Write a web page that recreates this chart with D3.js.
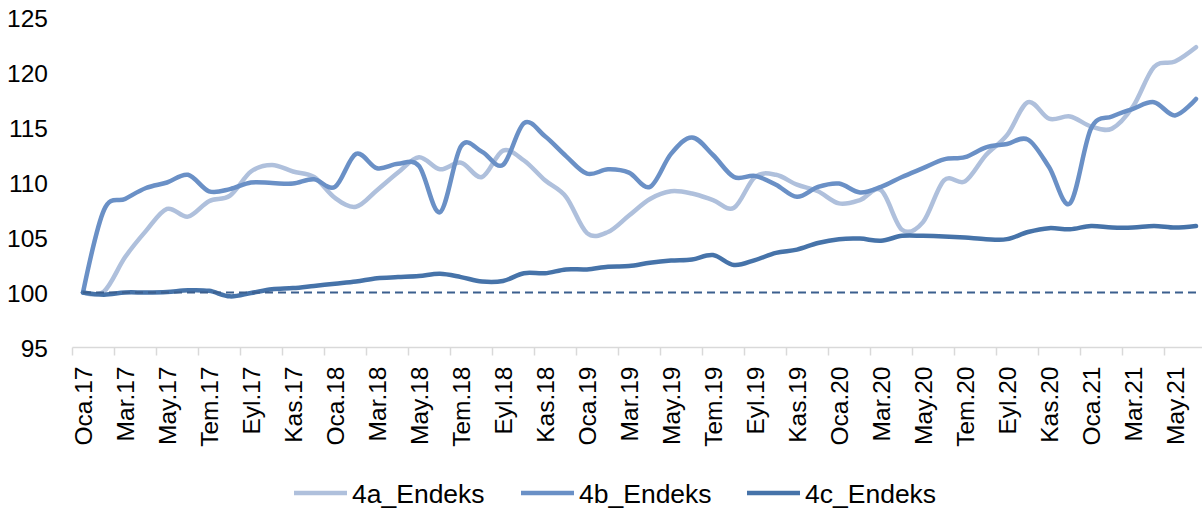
<!DOCTYPE html>
<html>
<head>
<meta charset="utf-8">
<script src="https://cdn.jsdelivr.net/npm/d3@7"></script>
<style>
  html, body { margin: 0; padding: 0; background: #fff; }
  svg { display: block; font-family: "Liberation Sans", Arial, sans-serif; }
</style>
</head>
<body>
<div id="chart"></div>
<script>
// Months Jan 2017 - Jun 2021 (Turkish abbreviations)
const categories = [
  "Oca.17","Şub.17","Mar.17","Nis.17","May.17","Haz.17","Tem.17","Ağu.17","Eyl.17","Eki.17","Kas.17","Ara.17",
  "Oca.18","Şub.18","Mar.18","Nis.18","May.18","Haz.18","Tem.18","Ağu.18","Eyl.18","Eki.18","Kas.18","Ara.18",
  "Oca.19","Şub.19","Mar.19","Nis.19","May.19","Haz.19","Tem.19","Ağu.19","Eyl.19","Eki.19","Kas.19","Ara.19",
  "Oca.20","Şub.20","Mar.20","Nis.20","May.20","Haz.20","Tem.20","Ağu.20","Eyl.20","Eki.20","Kas.20","Ara.20",
  "Oca.21","Şub.21","Mar.21","Nis.21","May.21","Haz.21"
];

const endeks4a = [
  100, 100.1, 103.2, 105.6, 107.6, 106.9, 108.3, 108.8, 111.0, 111.6, 111.0, 110.5,
  108.6, 107.8, 109.3, 110.9, 112.3, 111.2, 111.8, 110.5, 112.9, 112.0, 110.2, 108.7,
  105.4, 105.5, 107.0, 108.5, 109.2, 109.0, 108.4, 107.7, 110.5, 110.7, 109.8, 109.2,
  108.1, 108.4, 109.3, 105.7, 106.4, 110.2, 110.1, 112.5, 114.3, 117.3, 115.8, 116.0,
  115.1, 114.9, 116.9, 120.5, 121.0, 122.3
];

const endeks4b = [
  100, 107.5, 108.5, 109.5, 110.0, 110.7, 109.2, 109.4, 110.0, 109.95, 109.9, 110.3,
  109.6, 112.6, 111.3, 111.7, 111.5, 107.3, 113.3, 112.8, 111.6, 115.4, 114.2, 112.4,
  110.8, 111.2, 110.9, 109.6, 112.6, 114.1, 112.5, 110.5, 110.6, 109.8, 108.7, 109.6,
  109.9, 109.1, 109.6, 110.5, 111.3, 112.1, 112.3, 113.2, 113.5, 113.9, 111.4, 108.1,
  114.9, 116.0, 116.7, 117.3, 116.1, 117.6
];

const endeks4c = [
  100, 99.8, 100.0, 100.0, 100.05, 100.2, 100.15, 99.65, 99.95, 100.3, 100.4, 100.6,
  100.8, 101.0, 101.3, 101.4, 101.5, 101.7, 101.4, 101.0, 101.05, 101.75, 101.75, 102.1,
  102.1, 102.35, 102.4, 102.7, 102.9, 103.0, 103.4, 102.5, 102.95, 103.6, 103.9, 104.5,
  104.85, 104.9, 104.7, 105.15, 105.15, 105.1, 105.0, 104.85, 104.85, 105.5, 105.85, 105.75,
  106.05, 105.9, 105.9, 106.05, 105.9, 106.05
];

const baseLevel = 100;
const yTicks = [95, 100, 105, 110, 115, 120, 125];
const seriesNames = ["4a_Endeks", "4b_Endeks", "4c_Endeks"];
const seriesColors = ["#afc0dc", "#6a90c6", "#4673a9"];

const width = 1202, height = 510;

const svg = d3.select("#chart").append("svg")
  .attr("width", width)
  .attr("height", height);

// category scale: one band per month, points at band centres
const x = d3.scaleBand()
  .domain(categories)
  .range([72.5, 1206.5])
  .paddingInner(0)
  .paddingOuter(0);
const cx = d => x(d) + x.bandwidth() / 2;

const y = d3.scaleLinear()
  .domain([95, 125])
  .range([347.5, 17.5]);

// y labels (no axis line)
const yAxis = d3.axisLeft(y).tickValues(yTicks).tickSize(0).tickPadding(0);
svg.append("g")
  .attr("transform", "translate(48,0)")
  .call(yAxis)
  .call(g => g.select(".domain").remove())
  .call(g => g.selectAll("text")
    .attr("font-family", "Liberation Sans, Arial, sans-serif")
    .attr("font-size", 24.5)
    .attr("fill", "#000")
    .attr("dy", "0.36em"));

// x axis line and tick marks at band edges every 2 months
const axisY = y(95);
svg.append("line")
  .attr("x1", x.range()[0]).attr("x2", x.range()[1])
  .attr("y1", axisY).attr("y2", axisY)
  .attr("stroke", "#d9d9d9").attr("stroke-width", 1.5);

const shown = categories.filter((d, i) => i % 2 === 0);
svg.append("g").selectAll("line")
  .data(shown)
  .join("line")
  .attr("x1", d => x(d)).attr("x2", d => x(d))
  .attr("y1", axisY).attr("y2", axisY + 8)
  .attr("stroke", "#d9d9d9").attr("stroke-width", 1.5);

// rotated month labels
const xAxis = d3.axisBottom(x).tickValues(shown).tickSize(0).tickPadding(0);
svg.append("g")
  .attr("transform", `translate(0,${axisY})`)
  .call(xAxis)
  .call(g => g.select(".domain").remove())
  .call(g => g.selectAll("text")
    .attr("font-family", "Liberation Sans, Arial, sans-serif")
    .attr("font-size", 24.5)
    .attr("fill", "#000")
    .attr("text-anchor", "end")
    .attr("transform", "rotate(-90)")
    .attr("x", -19)
    .attr("y", 0)
    .attr("dy", "0.36em"));

// series lines
const line = d3.line()
  .x((d, i) => cx(categories[i]))
  .y(d => y(d))
  .curve(d3.curveCardinal.tension(0));

const allSeries = [endeks4a, endeks4b, endeks4c];
svg.append("g").selectAll("path")
  .data(allSeries)
  .join("path")
  .attr("d", line)
  .attr("fill", "none")
  .attr("stroke", (d, i) => seriesColors[i])
  .attr("stroke-width", 4.5)
  .attr("stroke-linejoin", "round")
  .attr("stroke-linecap", "round");

// dashed reference line at 100
svg.append("line")
  .attr("x1", cx(categories[0])).attr("x2", cx(categories[categories.length - 1]))
  .attr("y1", y(baseLevel)).attr("y2", y(baseLevel))
  .attr("stroke", "#3b5f8e")
  .attr("stroke-width", 2)
  .attr("stroke-dasharray", "8,5");

// legend
const legendX = [294, 521, 747];
const legend = svg.append("g").selectAll("g")
  .data(seriesNames)
  .join("g")
  .attr("transform", (d, i) => `translate(${legendX[i]},493)`);
legend.append("line")
  .attr("x1", 0).attr("x2", 53)
  .attr("stroke", (d, i) => seriesColors[i])
  .attr("stroke-width", 4.5);
legend.append("text")
  .attr("x", 58)
  .attr("dy", "0.36em")
  .attr("font-size", 26.5)
  .attr("fill", "#000")
  .text(d => d);
</script>
</body>
</html>
